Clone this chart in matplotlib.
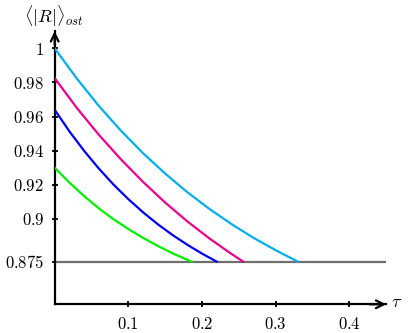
import matplotlib
matplotlib.use("Agg")
import matplotlib.pyplot as plt

plt.rcParams['mathtext.fontset'] = 'cm'
plt.rcParams['font.family'] = ['DejaVu Serif']

# Data
tau_cyan = [0.0, 0.03, 0.06, 0.09, 0.12, 0.15, 0.18, 0.21, 0.24, 0.27, 0.30, 0.33]
r_cyan = [1.000, 0.9823, 0.9662, 0.9517, 0.9385, 0.9266, 0.9157, 0.9059, 0.8970, 0.8889, 0.8817, 0.875]

tau_magenta = [0.0, 0.03, 0.06, 0.09, 0.12, 0.15, 0.18, 0.21, 0.24, 0.256]
r_magenta = [0.9825, 0.9651, 0.9493, 0.9349, 0.9217, 0.9096, 0.8986, 0.8886, 0.8795, 0.875]

tau_blue = [0.0, 0.02, 0.04, 0.06, 0.08, 0.10, 0.12, 0.14, 0.16, 0.18, 0.20, 0.22]
r_blue = [0.964, 0.9513, 0.9399, 0.9295, 0.9201, 0.9116, 0.9039, 0.8969, 0.8906, 0.8849, 0.8797, 0.875]

tau_green = [0.0, 0.02, 0.04, 0.06, 0.08, 0.10, 0.12, 0.14, 0.16, 0.18, 0.186]
r_green = [0.930, 0.9213, 0.9134, 0.9062, 0.8998, 0.8941, 0.8889, 0.8842, 0.8799, 0.8761, 0.875]

tau_gray = [0.0, 0.448]
r_gray = [0.875, 0.875]

xticks = [0.1, 0.2, 0.3, 0.4]
xtick_labels = ['0.1', '0.2', '0.3', '0.4']
yticks = [0.875, 0.9, 0.92, 0.94, 0.96, 0.98, 1.0]
ytick_labels = ['0.875', '0.9', '0.92', '0.94', '0.96', '0.98', '1']

fig = plt.figure(figsize=(4.08, 3.33), dpi=100)
ax = fig.add_axes([0.134, 0.0862, 0.8125, 0.820])

lw = 1.6
ax.plot(tau_gray, r_gray, color='#6e6e6e', lw=lw, zorder=2)
ax.plot(tau_cyan, r_cyan, color='#00aeef', lw=lw, zorder=3)
ax.plot(tau_magenta, r_magenta, color='#ec008c', lw=lw, zorder=3)
ax.plot(tau_blue, r_blue, color='#0000ff', lw=lw, zorder=3)
ax.plot(tau_green, r_green, color='#00ee00', lw=lw, zorder=3)

ax.set_xlim(0, 0.45)
ax.set_ylim(0.85, 1.01)

for s in ['top', 'right']:
    ax.spines[s].set_visible(False)
for s in ['left', 'bottom']:
    ax.spines[s].set_linewidth(1.6)

ax.set_xticks(xticks)
ax.set_xticklabels(['$' + t + '$' for t in xtick_labels])
ax.set_yticks(yticks)
ax.set_yticklabels(['$' + t + '$' for t in ytick_labels])
ax.tick_params(axis='both', direction='inout', length=5, width=1.3, labelsize=12)
ax.tick_params(axis='x', pad=6)
ax.tick_params(axis='y', pad=5)

# arrows
ax.annotate('', xy=(1.0, 0), xytext=(0.95, 0), xycoords='axes fraction',
            arrowprops=dict(arrowstyle='->', lw=1.6, color='black',
                            mutation_scale=14, shrinkA=0, shrinkB=0))
ax.annotate('', xy=(0, 1.0), xytext=(0, 0.95), xycoords='axes fraction',
            arrowprops=dict(arrowstyle='->', lw=1.6, color='black',
                            mutation_scale=14, shrinkA=0, shrinkB=0))

fig.text(54 / 408, 1 - 16 / 333, r'$\langle|R|\rangle_{ost}$', ha='center', va='center', fontsize=13)
fig.text(397 / 408, 1 - 302 / 333, r'$\tau$', ha='center', va='center', fontsize=13)

fig.savefig('out.png', dpi=100)
